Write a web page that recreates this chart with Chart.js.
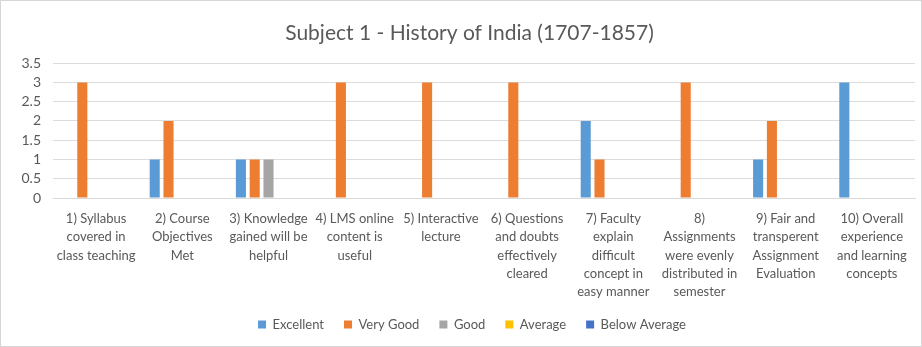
<!DOCTYPE html>
<html>
<head>
<meta charset="utf-8">
<script src="https://cdn.jsdelivr.net/npm/chart.js@4/dist/chart.umd.min.js"></script>
<style>
  html, body { margin: 0; padding: 0; background: #ffffff; }
  #wrap { position: relative; width: 922px; height: 347px; box-sizing: border-box; border: 1px solid #d6d6d6; }
  canvas { display: block; }
</style>
</head>
<body>
<div id="wrap"><canvas id="c" width="920" height="345"></canvas></div>
<script>
// Survey questions (x-axis categories, pre-wrapped into lines)
const categories = [
  ["1) Syllabus", "covered in", "class teaching"],
  ["2) Course", "Objectives", "Met"],
  ["3) Knowledge", "gained will be", "helpful"],
  ["4) LMS online", "content is", "useful"],
  ["5) Interactive", "lecture"],
  ["6) Questions", "and doubts", "effectively", "cleared"],
  ["7) Faculty", "explain", "difficult", "concept in", "easy manner"],
  ["8)", "Assignments", "were evenly", "distributed in", "semester"],
  ["9) Fair and", "transperent", "Assignment", "Evaluation"],
  ["10) Overall", "experience", "and learning", "concepts"]
];

// Number of responses per rating
const excellent    = [0, 1, 1, 0, 0, 0, 2, 0, 1, 3];
const veryGood     = [3, 2, 1, 3, 3, 3, 1, 3, 2, 0];
const good         = [0, 0, 1, 0, 0, 0, 0, 0, 0, 0];
const average      = [0, 0, 0, 0, 0, 0, 0, 0, 0, 0];
const belowAverage = [0, 0, 0, 0, 0, 0, 0, 0, 0, 0];

const seriesNames = ["Excellent", "Very Good", "Good", "Average", "Below Average"];
const yTicks = [0, 0.5, 1, 1.5, 2, 2.5, 3, 3.5];

const FONT = "Lato, 'Open Sans', sans-serif";
const TEXT = "#595959";

// Nudge the title and legend so they sit centred over the whole frame
const centreBlocks = {
  id: "centreBlocks",
  afterLayout(chart) {
    if (chart.titleBlock) { chart.titleBlock.left += 7; }
    if (chart.legend) { chart.legend.left += 12; }
  }
};

new Chart(document.getElementById("c"), {
  type: "bar",
  data: {
    labels: categories,
    datasets: [
      { label: seriesNames[0], data: excellent,    backgroundColor: "#5B9BD5" },
      { label: seriesNames[1], data: veryGood,     backgroundColor: "#ED7D31" },
      { label: seriesNames[2], data: good,         backgroundColor: "#A5A5A5" },
      { label: seriesNames[3], data: average,      backgroundColor: "#FFC000" },
      { label: seriesNames[4], data: belowAverage, backgroundColor: "#4472C4" }
    ]
  },
  plugins: [centreBlocks],
  options: {
    responsive: false,
    animation: false,
    datasets: { bar: { categoryPercentage: 0.8, barPercentage: 0.73 } },
    layout: { padding: { left: 16, right: 6, top: 8, bottom: 5 } },
    plugins: {
      title: {
        display: true,
        text: "Subject 1 - History of India (1707-1857)",
        color: TEXT,
        font: { family: FONT, size: 21, weight: "normal" },
        padding: { top: 12, bottom: 17 }
      },
      legend: {
        position: "bottom",
        labels: {
          color: TEXT,
          font: { family: FONT, size: 13 },
          boxWidth: 8,
          boxHeight: 8,
          padding: 20
        }
      },
      tooltip: { enabled: false }
    },
    scales: {
      x: {
        grid: { display: false, drawTicks: false },
        border: { display: true, color: "#d9d9d9" },
        ticks: {
          color: TEXT,
          font: { family: FONT, size: 13, lineHeight: 1.4 },
          maxRotation: 0,
          autoSkip: false,
          padding: 12
        },
        afterFit: (axis) => { axis.height -= 15; }
      },
      y: {
        min: 0,
        max: 3.5,
        afterBuildTicks: (axis) => { axis.ticks = yTicks.map(v => ({ value: v })); },
        afterFit: (axis) => { axis.width = 36; },
        grid: { color: "#dcdcdc", drawTicks: false },
        border: { display: false },
        ticks: {
          color: TEXT,
          font: { family: FONT, size: 14 },
          autoSkip: false,
          padding: 12,
          callback: (v) => String(v)
        }
      }
    }
  }
});
</script>
</body>
</html>
